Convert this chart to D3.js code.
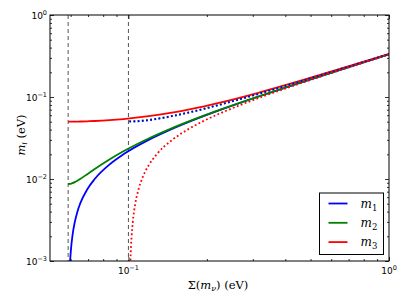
<!DOCTYPE html>
<html lang="en">
<head>
<meta charset="utf-8">
<title>neutrino masses</title>
<script src="https://cdn.jsdelivr.net/npm/d3@7"></script>
<style>
  body { margin: 0; background: #fff; }
  svg { display: block; }
  .domain { display: none; }
  .tick line { stroke: #000; stroke-width: 0.8; }
</style>
</head>
<body>
<script>
// normal hierarchy: sum of masses and the three masses
var nhSum = [0.05866,0.059615,0.05973,0.060311,0.06093,0.06226,0.063699,0.06525,0.06952,0.07422,0.08452,0.095646,0.119535,0.144958,0.171455,0.226557,0.312177,0.458364,0.606342,0.755101,1.023767];
var nhM1  = [0,0.0009,0.001,0.0015,0.002,0.003,0.004,0.005,0.0075,0.01,0.015,0.02,0.03,0.04,0.05,0.07,0.1,0.15,0.2,0.25,0.34];
var nhM2  = [0.00866,0.008707,0.008718,0.008789,0.008888,0.009165,0.009539,0.01,0.011456,0.013229,0.017321,0.021794,0.031225,0.040927,0.050744,0.070534,0.100374,0.15025,0.200187,0.25015,0.34011];
var nhM3  = [0.05,0.050008,0.05001,0.050022,0.05004,0.05009,0.05016,0.05025,0.05056,0.05099,0.0522,0.053852,0.05831,0.064031,0.070711,0.086023,0.111803,0.158114,0.206155,0.254951,0.343657];

// inverted hierarchy (dotted)
var ihSum = [0.100744,0.10166,0.101764,0.102288,0.102823,0.103923,0.106239,0.109354,0.11271,0.120117,0.128396,0.147259,0.168645,0.19195,0.242481,0.323941,0.466465,0.612492,0.760049,1.027423];
var ihM1  = [0.05,0.050008,0.05001,0.050022,0.05004,0.05009,0.050249,0.050559,0.05099,0.052202,0.053852,0.05831,0.064031,0.070711,0.086023,0.111803,0.158114,0.206155,0.254951,0.343657];
var ihM2  = [0.050744,0.050752,0.050754,0.050766,0.050783,0.050833,0.05099,0.051295,0.05172,0.052915,0.054544,0.058949,0.064614,0.071239,0.086458,0.112138,0.158351,0.206337,0.255098,0.343766];
var ihM3  = [0,0.0009,0.001,0.0015,0.002,0.003,0.005,0.0075,0.01,0.015,0.02,0.03,0.04,0.05,0.07,0.1,0.15,0.2,0.25,0.34];

// dashed markers: minimal sums
var minSums = [0.0587, 0.1];

var xMajor = [0.1, 1];
var xMajorExp = ["-1", "0"];
var yMajor = [0.001, 0.01, 0.1, 1];
var yMajorExp = ["-3", "-2", "-1", "0"];

var legendNames = ["1", "2", "3"];
var colors = ["#0000ff", "#008000", "#ff0000"];

var W = 407, H = 305;
var pL = 50, pR = 389, pT = 15, pB = 261;

var x = d3.scaleLog().domain([0.05, 1]).range([pL, pR]);
var y = d3.scaleLog().domain([0.001, 1]).range([pB, pT]);

var svg = d3.select("body").append("svg")
    .attr("width", W)
    .attr("height", H);

svg.append("clipPath").attr("id", "clip")
  .append("rect")
    .attr("x", pL).attr("y", pT)
    .attr("width", pR - pL).attr("height", pB - pT);

var plot = svg.append("g").attr("clip-path", "url(#clip)");

// minor tick values
function minors(lo, hi) {
    var out = [];
    for (var e = lo; e < hi; e++)
        for (var k = 2; k < 10; k++) out.push(k * Math.pow(10, e));
    return out;
}
var xMinor = minors(-2, 0).filter(function(v) { return v > 0.05 && v < 1; });
var yMinor = minors(-3, 0);

// dashed vertical lines
plot.selectAll("line.vmin")
    .data(minSums)
  .enter().append("line")
    .attr("class", "vmin")
    .attr("x1", function(d) { return x(d); })
    .attr("x2", function(d) { return x(d); })
    .attr("y1", pT).attr("y2", pB)
    .attr("stroke", "#555")
    .attr("stroke-width", 1)
    .attr("stroke-dasharray", "4,3");

function drawLine(sums, vals, color, dotted) {
    var pts = sums.map(function(s, i) { return [s, vals[i]]; })
                  .filter(function(p) { return p[1] > 0; });
    var line = d3.line()
        .x(function(d) { return x(d[0]); })
        .y(function(d) { return y(d[1]); })
        .curve(d3.curveMonotoneX);
    plot.append("path")
        .datum(pts)
        .attr("d", line)
        .attr("fill", "none")
        .attr("stroke", color)
        .attr("stroke-width", 1.8)
        .attr("stroke-dasharray", dotted ? "1.8,2.4" : null);
}

drawLine(nhSum, nhM1, colors[0], false);
drawLine(nhSum, nhM2, colors[1], false);
drawLine(nhSum, nhM3, colors[2], false);
drawLine(ihSum, ihM2, colors[1], true);
drawLine(ihSum, ihM1, colors[0], true);
drawLine(ihSum, ihM3, colors[2], true);

// axes: ticks pointing inward on all four sides
function addAxis(axisFn, scale, minor, major, transform) {
    svg.append("g").attr("transform", transform)
        .call(axisFn(scale).tickValues(minor).tickSize(-2).tickFormat(""));
    svg.append("g").attr("transform", transform)
        .call(axisFn(scale).tickValues(major).tickSize(-4).tickFormat(""));
}

addAxis(d3.axisBottom, x, xMinor, xMajor, "translate(0," + pB + ")");
addAxis(d3.axisTop, x, xMinor, xMajor, "translate(0," + pT + ")");
addAxis(d3.axisLeft, y, yMinor, yMajor, "translate(" + pL + ",0)");
addAxis(d3.axisRight, y, yMinor, yMajor, "translate(" + pR + ",0)");

// tick labels with superscripts
var xl = svg.append("g").selectAll("text")
    .data(xMajor)
  .enter().append("text")
    .attr("x", function(d) { return x(d); })
    .attr("y", pB + 13)
    .attr("text-anchor", "middle")
    .style("font-family", "DejaVu Sans, sans-serif")
    .style("font-size", "9px");
xl.append("tspan").text("10");
xl.append("tspan").attr("dy", -4).style("font-size", "6.5px")
    .text(function(d, i) { return xMajorExp[i].replace("-", "\u2212"); });

var yl = svg.append("g").selectAll("text")
    .data(yMajor)
  .enter().append("text")
    .attr("x", pL - 3)
    .attr("y", function(d) { return y(d) + 3.5; })
    .attr("text-anchor", "end")
    .style("font-family", "DejaVu Sans, sans-serif")
    .style("font-size", "9px");
yl.append("tspan").text("10");
yl.append("tspan").attr("dy", -4).style("font-size", "6.5px")
    .text(function(d, i) { return yMajorExp[i].replace("-", "\u2212"); });

// frame
svg.append("rect")
    .attr("x", pL).attr("y", pT)
    .attr("width", pR - pL).attr("height", pB - pT)
    .attr("fill", "none").attr("stroke", "#000").attr("stroke-width", 1);

// axis titles
var xt = svg.append("text")
    .attr("x", 218)
    .attr("y", 289)
    .attr("text-anchor", "middle")
    .style("font-family", "DejaVu Serif, serif")
    .style("font-size", "11.5px");
xt.append("tspan").text("\u03a3(");
xt.append("tspan").style("font-style", "italic").text("m");
xt.append("tspan").attr("dy", 2).style("font-style", "italic").style("font-size", "8px").text("\u03bd");
xt.append("tspan").attr("dy", -2).text(") (eV)");

var yt = svg.append("text")
    .attr("transform", "translate(25,135) rotate(-90)")
    .attr("text-anchor", "middle")
    .style("font-family", "DejaVu Serif, serif")
    .style("font-size", "11.5px");
yt.append("tspan").style("font-style", "italic").text("m");
yt.append("tspan").attr("dy", 2).style("font-style", "italic").style("font-size", "8px").text("i");
yt.append("tspan").attr("dy", -2).text(" (eV)");

// legend
var lg = svg.append("g").attr("transform", "translate(319.5,193)");
lg.append("rect")
    .attr("width", 64).attr("height", 61.5)
    .attr("fill", "#fff").attr("stroke", "#000").attr("stroke-width", 1);
var items = lg.selectAll("g.item")
    .data(legendNames)
  .enter().append("g")
    .attr("class", "item")
    .attr("transform", function(d, i) { return "translate(0," + (10.5 + i * 19.3) + ")"; });
items.append("line")
    .attr("x1", 9).attr("x2", 28)
    .attr("stroke", function(d, i) { return colors[i]; })
    .attr("stroke-width", 1.8);
var lt = items.append("text")
    .attr("x", 41).attr("y", 4)
    .style("font-family", "DejaVu Serif, serif")
    .style("font-size", "12px");
lt.append("tspan").style("font-style", "italic").text("m");
lt.append("tspan").attr("dy", 3).style("font-size", "8.5px").text(function(d) { return d; });
</script>
</body>
</html>
